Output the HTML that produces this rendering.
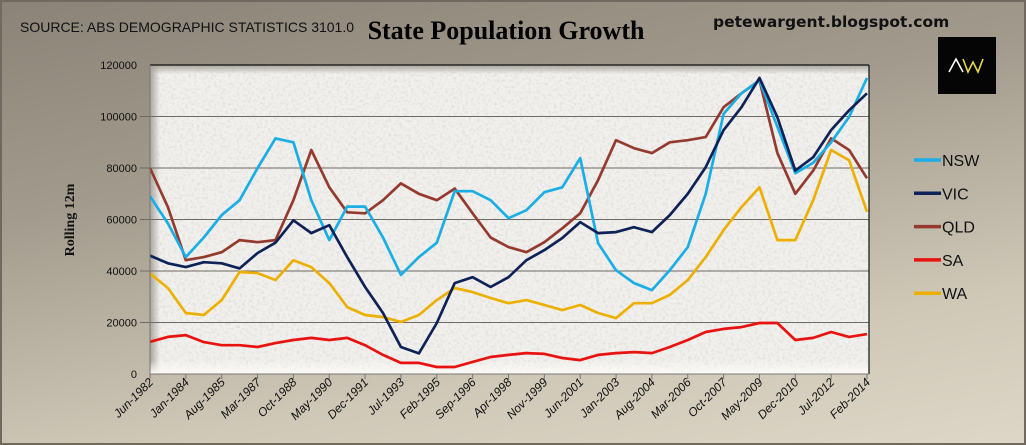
<!DOCTYPE html>
<html><head><meta charset="utf-8"><style>
html,body{margin:0;padding:0;}
body{width:1026px;height:445px;overflow:hidden;background:linear-gradient(170deg,#8a8377 0%,#a29b8d 35%,#cfc8b7 75%,#ddd7c7 100%);font-family:"Liberation Sans",sans-serif;position:relative;}
#frame{position:absolute;left:0;top:0;width:1022px;height:441px;border:2px solid #6f695f;box-sizing:content-box;}
</style></head><body>
<div id="frame"></div>
<svg width="1026" height="445" style="position:absolute;left:0;top:0">
<defs>
<filter id="noise" x="0" y="0" width="100%" height="100%">
<feTurbulence type="fractalNoise" baseFrequency="0.35" numOctaves="2" seed="3"/>
<feColorMatrix type="matrix" values="0 0 0 0 0.6  0 0 0 0 0.6  0 0 0 0 0.6  0 0 0 -1.8 1.0"/>
</filter>
<linearGradient id="bevL" x1="0" x2="1"><stop offset="0" stop-color="#a9a59c"/><stop offset="1" stop-color="#a9a59c" stop-opacity="0"/></linearGradient>
<linearGradient id="bevT" y1="0" y2="1" x1="0" x2="0"><stop offset="0" stop-color="#a9a59c"/><stop offset="1" stop-color="#a9a59c" stop-opacity="0"/></linearGradient>
<linearGradient id="bevB" y1="1" y2="0" x1="0" x2="0"><stop offset="0" stop-color="#fbfaf7"/><stop offset="1" stop-color="#fbfaf7" stop-opacity="0"/></linearGradient>
</defs>
<text x="20" y="32" font-size="14" fill="#111">SOURCE: ABS DEMOGRAPHIC STATISTICS 3101.0</text>
<text x="506" y="39" font-size="26" font-weight="bold" text-anchor="middle" font-family="Liberation Serif, serif" fill="#000">State Population Growth</text>
<text x="713" y="27" font-size="15.5" font-weight="bold" font-family="DejaVu Sans, sans-serif" fill="#111">petewargent.blogspot.com</text>
<g>
<rect x="938" y="37" width="58" height="57" fill="#050505"/>
<polyline points="949,72 956,59 963,72" fill="none" stroke="#fff" stroke-width="1.6"/>
<polyline points="963,59 968,72 973,62 978,72 983,59" fill="none" stroke="#e8d84a" stroke-width="1.6"/>
</g>
<g id="plot">
<rect x="150" y="65" width="719" height="309" fill="#f1f0ed"/>
<rect x="150" y="65" width="719" height="309" fill="#fff" filter="url(#noise)" opacity="0.6"/>
<rect x="150" y="65" width="10" height="309" fill="url(#bevL)"/>
<rect x="150" y="65" width="719" height="9" fill="url(#bevT)"/>
<rect x="150" y="360" width="719" height="14" fill="url(#bevB)"/>
</g>
<g id="grid"></g>
<g id="axes"></g>
<g id="series"></g>
<line x1="150" y1="65" x2="869" y2="65" stroke="#111" stroke-width="1.2"/>
<line x1="869" y1="65" x2="869" y2="374" stroke="#111" stroke-width="1.2"/>
<line x1="150" y1="65" x2="150" y2="374" stroke="#777" stroke-width="1"/>
<line x1="150" y1="374" x2="869" y2="374" stroke="#777" stroke-width="1"/>
<text transform="translate(74,220) rotate(-90)" text-anchor="middle" font-size="14" font-weight="bold" font-family="Liberation Serif, serif" fill="#111">Rolling 12m</text>
<g id="legend"></g>
</svg>
<script>
const xLabels=["Jun-1982","Jan-1984","Aug-1985","Mar-1987","Oct-1988","May-1990","Dec-1991","Jul-1993","Feb-1995","Sep-1996","Apr-1998","Nov-1999","Jun-2001","Jan-2003","Aug-2004","Mar-2006","Oct-2007","May-2009","Dec-2010","Jul-2012","Feb-2014"];
const yTicks=[0,20000,40000,60000,80000,100000,120000];
const seriesNames=["NSW","VIC","QLD","SA","WA"];
const nsw=[69000,58500,45400,53000,61700,67500,80000,91500,90000,67500,52000,65000,65000,53000,38500,45400,51000,71000,71000,67500,60500,63600,70600,72500,83800,50800,40300,35300,32600,40300,49300,70000,101000,109000,114000,96000,78000,82000,90000,99800,115000];
const vic=[46000,43000,41500,43400,43000,41000,47000,51000,59700,54700,57800,45400,33800,23700,10500,8000,19800,35300,37600,33800,37600,44200,48100,52800,59000,54700,55100,57000,55100,61700,70000,80300,94700,103600,115000,99700,79000,84200,94700,102400,109000];
const qld=[80000,64800,44200,45400,47300,52000,51200,52000,67500,87000,72500,62800,62400,67500,74000,70000,67500,72000,62400,53000,49300,47300,51200,56600,62400,75300,90800,87700,85800,90000,90800,92000,103600,109000,114000,85800,70000,79000,91500,87000,76000];
const sa=[12500,14400,15100,12400,11200,11200,10500,12000,13200,14000,13200,14000,11200,7400,4300,4300,2700,2700,4700,6600,7400,8100,7800,6200,5400,7400,8100,8500,8100,10500,13200,16300,17500,18200,19800,19800,13200,14000,16300,14400,15500];
const wa=[39000,33400,23700,22900,28700,39600,39200,36500,44200,41500,35300,26000,22900,22100,20200,22900,28700,33400,31800,29500,27500,28700,26800,24800,26800,23700,21700,27500,27500,30700,36500,45400,55900,64800,72500,52000,52000,67500,87000,83000,63000];
const colors=["#1aaee5","#0f2257","#953a2e","#e8120f","#eeb000"];
const NS="http://www.w3.org/2000/svg";
const X0=150,X1=867,Y0=374,Y1=65,YMAX=120000;
function xPos(i,n){return X0+(X1-X0)*i/(n-1);}
function yPos(v){return Y0-(Y0-Y1)*v/YMAX;}
function mk(tag,attrs,parent){const e=document.createElementNS(NS,tag);for(const k in attrs)e.setAttribute(k,attrs[k]);parent.appendChild(e);return e;}
const grid=document.getElementById('grid'),axes=document.getElementById('axes'),ser=document.getElementById('series'),leg=document.getElementById('legend');
yTicks.forEach(v=>{
  const y=yPos(v);
  if(v>0&&v<YMAX){const g=mk('line',{x1:X0-10,x2:869,y1:y,y2:y,stroke:'#6e6a64','stroke-width':1},grid);
  
  }
  const t=mk('text',{x:137,y:y+4,'text-anchor':'end','font-size':11,fill:'#111'},axes);
  t.textContent=v;
  
  
});
xLabels.forEach((l,i)=>{
  const x=xPos(i,xLabels.length);
  mk('line',{x1:x,x2:x,y1:374,y2:379,stroke:'#777'},axes);
  const t=mk('text',{transform:`translate(${x+4},${383}) rotate(-45)`,'text-anchor':'end','font-size':12,'font-style':'italic',fill:'#111'},axes);
  t.textContent=l;
  
  
});
const data=[nsw,vic,qld,sa,wa];
const order=[4,3,2,0,1];
order.forEach(s=>{
  const arr=data[s];
  const pts=arr.map((v,i)=>xPos(i,arr.length).toFixed(1)+','+yPos(v).toFixed(1)).join(' ');
  const p=mk('polyline',{points:pts,fill:'none',stroke:colors[s],'stroke-width':2.7,'stroke-linejoin':'round'},ser);
  
  
});
seriesNames.forEach((n,i)=>{
  const y=160+i*33.3;
  const g=mk('g',{},leg);
  
  
  mk('line',{x1:914,x2:941,y1:y,y2:y,stroke:colors[i],'stroke-width':3.5},g);
  const t=mk('text',{x:942,y:y+6,'font-size':16,fill:'#111'},g);
  t.textContent=n;
});
</script>
</body></html>
